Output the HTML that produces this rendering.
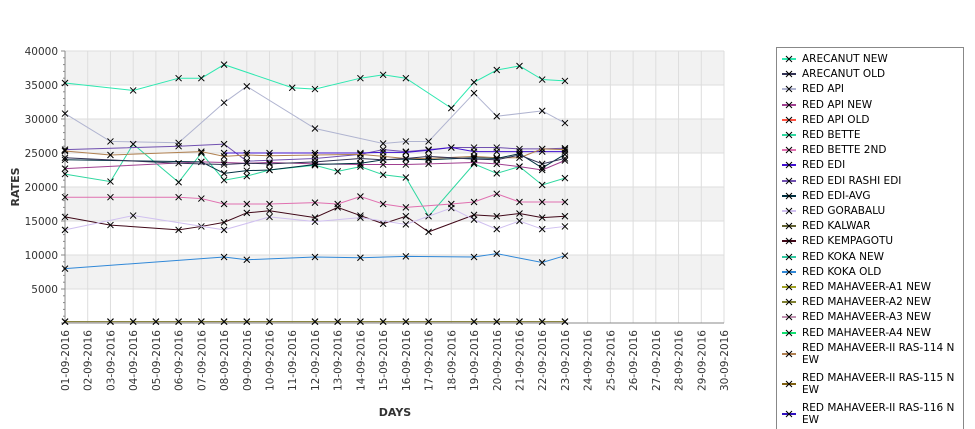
<!DOCTYPE html>
<html><head><meta charset="utf-8"><style>
body{margin:0;background:#fff;font-family:"DejaVu Sans","Liberation Sans",sans-serif;}
#wrap{position:relative;width:975px;height:429px;overflow:hidden;}
#legend{position:absolute;left:776px;top:47px;width:186px;height:400px;border:1px solid #888;background:#fff;font-size:10.5px;color:#000;}
.le{position:absolute;left:0;width:186px;line-height:12px;}
.le span.t{position:absolute;left:25px;width:160px;}
.le svg{position:absolute;left:4px;}
</style></head><body>
<div id="wrap">
<svg id="chart" width="770" height="429" style="position:absolute;left:0;top:0"></svg>
<div id="legend"></div>
</div>
<script>
const days = [];
for (let i = 1; i <= 30; i++) days.push((i<10?'0':'')+i+'-09-2016');
const yTicks = [5000,10000,15000,20000,25000,30000,35000,40000];
const seriesNames = ["ARECANUT NEW","ARECANUT OLD","RED API","RED API NEW","RED API OLD","RED BETTE","RED BETTE 2ND","RED EDI","RED EDI RASHI EDI","RED EDI-AVG","RED GORABALU","RED KALWAR","RED KEMPAGOTU","RED KOKA NEW","RED KOKA OLD","RED MAHAVEER-A1 NEW","RED MAHAVEER-A2 NEW","RED MAHAVEER-A3 NEW","RED MAHAVEER-A4 NEW","RED MAHAVEER-II RAS-114 NEW","RED MAHAVEER-II RAS-115 NEW","RED MAHAVEER-II RAS-116 NEW","RED MAHAVEER-II RAS-117 NEW"];
const seriesColors = ["#2ee8b0","#333355","#b0b4d0","#a04090","#ff5040","#30d8a0","#e070b0","#4010d0","#7050b0","#003040","#d0c0f0","#606030","#400818","#30c8a0","#3088d8","#a0a020","#808030","#c090b0","#10e070","#b08050","#806010","#3010c0","#555555"];
const sArecanutNew = [35300,null,null,34200,null,36000,36000,38000,null,null,34600,34400,null,36000,36500,36000,null,31600,35400,37200,37800,35800,35600];
const sRedApi = [30800,null,26700,null,null,26500,null,32400,34800,null,null,28600,null,null,26400,26700,26700,null,33800,30400,null,31200,29400];
const sBette = [21900,null,20800,26300,null,20700,25000,21000,21600,22500,null,23200,22300,23000,21800,21400,15700,null,23400,22000,23000,20300,21300];
const sBette2 = [18500,null,18500,null,null,18500,18300,17500,17500,17500,null,17700,17500,18600,17500,17000,null,17500,17800,19000,17800,17800,17800];
const sKempa = [15600,null,14400,null,null,13700,14200,14800,16200,16500,null,15500,17000,15800,14600,15700,13400,null,15900,15700,16100,15500,15700];
const sGora = [13700,null,null,15800,null,null,null,13700,null,15600,null,14900,null,15500,null,14500,null,16900,15200,13800,15000,13800,14200];
const sKokaOld = [8000,null,null,null,null,null,null,9700,9300,null,null,9700,null,9600,null,9800,null,null,9700,10200,null,8900,9900];
const sEdiRashi = [25500,null,null,null,null,26000,null,26300,23800,null,null,24200,null,24800,25500,25200,25500,25800,25800,25800,25600,25600,25700];
const sEdi = [null,null,null,null,null,null,null,25000,25000,25000,null,25000,null,25000,25100,25100,25400,25800,25200,25200,25200,25200,25200];
const sKas114 = [25300,null,24700,null,null,null,25200,24500,24700,24600,null,24700,null,24800,24500,24200,24200,null,24500,24300,24300,25600,25500];
const sApiNew = [22700,null,null,null,null,null,23700,23600,23500,23600,null,23400,null,23300,23300,23300,23400,null,23600,23400,23000,22500,23900];
const sEdiAvg = [24000,null,null,null,null,null,23700,22000,22400,22500,null,23300,null,23500,24000,24100,24000,null,24300,24200,24900,22800,24800];
const sKokaNew = [24300,null,null,null,null,23500,null,23300,23500,23400,null,23700,null,24200,24000,24200,24500,null,24100,24000,24700,23400,24200];
const sZero = [200,null,200,200,200,200,200,200,200,200,null,200,200,200,200,200,200,null,200,200,200,200,200];
const plotted = [[0,sArecanutNew],[2,sRedApi],[5,sBette],[6,sBette2],[12,sKempa],[10,sGora],[14,sKokaOld],[8,sEdiRashi],[7,sEdi],[19,sKas114],[3,sApiNew],[9,sEdiAvg],[1,sKokaNew],[17,sZero],[16,sZero]];

const X0=65, X1=724, Y0=323, Y1=51;
const xs = d => X0 + d*(X1-X0)/29;
const ys = v => Y0 - v*(Y0-Y1)/40000;
const svg = document.getElementById('chart');
const NS='http://www.w3.org/2000/svg';
function mk(t,a){const e=document.createElementNS(NS,t);for(const k in a)e.setAttribute(k,a[k]);svg.appendChild(e);return e;}
for (let i=0;i<8;i++){
  const r=mk('rect',{x:X0,y:ys((i+1)*5000),width:X1-X0,height:ys(i*5000)-ys((i+1)*5000),fill:(i%2? '#f2f2f2':'#ffffff')});
  
  
}
days.forEach((d,i)=>{
  const l=mk('line',{x1:xs(i),x2:xs(i),y1:Y1,y2:Y0,stroke:'#dddddd','stroke-width':1});
  
  
  const t=mk('text',{x:0,y:0,transform:`translate(${xs(i)+4},${Y0+7}) rotate(-90)`,'text-anchor':'end','font-size':'10.5','fill':'#333','font-family':'DejaVu Sans, Liberation Sans, sans-serif'});
  t.textContent=d;
  
  
});
yTicks.forEach(v=>{
  const l=mk('line',{x1:X0,x2:X1,y1:ys(v),y2:ys(v),stroke:'#dddddd'});
  
  
  const t=mk('text',{x:X0-7,y:ys(v)+4,'text-anchor':'end','font-size':'10.5',fill:'#333','font-family':'DejaVu Sans, Liberation Sans, sans-serif'});
  t.textContent=v;
  
  
});
for(let v=0;v<=40000;v+=1000){
  const m=mk('line',{x1:X0-(v%5000?2:4),x2:X0,y1:ys(v),y2:ys(v),stroke:'#888'});
  
  
}
const ax=mk('path',{d:`M${X0},${Y1} V${Y0} H${X1}`,fill:'none',stroke:'#888'});


plotted.forEach(([ci,vals])=>{
  let d='';
  vals.forEach((v,i)=>{ if(v==null) return; d+=(d?'L':'M')+xs(i)+','+ys(v); });
  const p=mk('path',{d,fill:'none',stroke:seriesColors[ci],'stroke-width':1});
  
  
  vals.forEach((v,i)=>{ if(v==null) return; const x=xs(i),y=ys(v);
    const m=mk('path',{d:`M${x-3},${y-3}L${x+3},${y+3}M${x-3},${y+3}L${x+3},${y-3}`,stroke:'#000','stroke-width':1});
    
    
  });
});
const xt=mk('text',{x:395,y:416,'text-anchor':'middle','font-size':'11','font-weight':'bold',fill:'#333','font-family':'DejaVu Sans, Liberation Sans, sans-serif'});
xt.textContent='DAYS';


const yt=mk('text',{x:0,y:0,transform:'translate(19,187) rotate(-90)','text-anchor':'middle','font-size':'11','font-weight':'bold',fill:'#333','font-family':'DejaVu Sans, Liberation Sans, sans-serif'});
yt.textContent='RATES';


const lg=document.getElementById('legend');
let legTop=5;
seriesNames.forEach((n,i)=>{
  const e=document.createElement('div');
  e.className='le';
  
  
  const two=n.length>26;
  const label=two? n.slice(0,n.length-2)+'\n'+n.slice(-2):n;
  e.style.top=legTop+'px';
  const icy=two?12:6;
  e.innerHTML=`<svg width="16" height="12" style="top:${icy-6}px"><line x1="1" x2="15" y1="6" y2="6" stroke="${seriesColors[i]}" stroke-width="2"/><path d="M5,3L11,9M5,9L11,3" stroke="#000"/></svg><span class="t" style="white-space:pre">${label}</span>`;
  lg.appendChild(e);
  legTop+= two?30:15.2;
});
</script>
</body></html>
